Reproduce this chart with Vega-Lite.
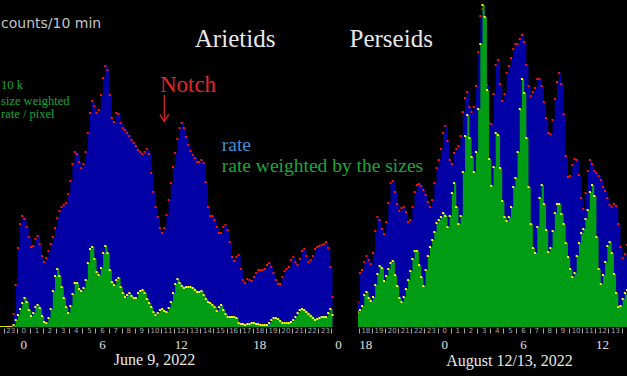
{
  "$schema": "https://vega.github.io/schema/vega-lite/v6.json",
  "background": "#000000",
  "padding": {"left": 0, "top": 0, "right": 0, "bottom": 8},
  "bounds": "flush",
  "spacing": 20,
  "config": {
    "view": {"stroke": null},
    "axis": {"grid": false, "domain": false, "labelFlush": false, "labelOverlap": false, "labelBound": false}
  },
  "datasets": {
    "june": [
      {"min": -105, "r": 0, "w": 0}, {"min": -95, "r": 0, "w": 0}, {"min": -85, "r": 0, "w": 0},
      {"min": -75, "r": 0, "w": 0}, {"min": -65, "r": 0, "w": 0}, {"min": -55, "r": 0, "w": 0},
      {"min": -45, "r": 13, "w": 2}, {"min": -35, "r": 42, "w": 7}, {"min": -25, "r": 79, "w": 12},
      {"min": -15, "r": 103, "w": 18}, {"min": -5, "r": 111, "w": 24}, {"min": 5, "r": 108, "w": 29},
      {"min": 15, "r": 100, "w": 25}, {"min": 25, "r": 90, "w": 17}, {"min": 35, "r": 80, "w": 11},
      {"min": 45, "r": 81, "w": 14}, {"min": 55, "r": 88, "w": 20}, {"min": 65, "r": 91, "w": 22},
      {"min": 75, "r": 83, "w": 19}, {"min": 85, "r": 71, "w": 11}, {"min": 95, "r": 65, "w": 5},
      {"min": 105, "r": 69, "w": 4}, {"min": 115, "r": 76, "w": 9}, {"min": 125, "r": 83, "w": 18},
      {"min": 135, "r": 90, "w": 36}, {"min": 145, "r": 99, "w": 51}, {"min": 155, "r": 109, "w": 58},
      {"min": 165, "r": 116, "w": 51}, {"min": 175, "r": 120, "w": 40}, {"min": 185, "r": 122, "w": 29},
      {"min": 195, "r": 124, "w": 20}, {"min": 205, "r": 133, "w": 14}, {"min": 215, "r": 146, "w": 21},
      {"min": 225, "r": 163, "w": 33}, {"min": 235, "r": 175, "w": 44}, {"min": 245, "r": 173, "w": 44},
      {"min": 255, "r": 165, "w": 38}, {"min": 265, "r": 159, "w": 36}, {"min": 275, "r": 163, "w": 39},
      {"min": 285, "r": 175, "w": 47}, {"min": 295, "r": 194, "w": 64}, {"min": 305, "r": 214, "w": 78},
      {"min": 315, "r": 226, "w": 80}, {"min": 325, "r": 221, "w": 68}, {"min": 335, "r": 214, "w": 55},
      {"min": 345, "r": 217, "w": 52}, {"min": 355, "r": 232, "w": 59}, {"min": 365, "r": 249, "w": 74},
      {"min": 375, "r": 261, "w": 81}, {"min": 385, "r": 257, "w": 74}, {"min": 395, "r": 232, "w": 57},
      {"min": 405, "r": 209, "w": 45}, {"min": 415, "r": 205, "w": 42}, {"min": 425, "r": 214, "w": 47},
      {"min": 435, "r": 213, "w": 49}, {"min": 445, "r": 204, "w": 40}, {"min": 455, "r": 199, "w": 34},
      {"min": 465, "r": 197, "w": 30}, {"min": 475, "r": 194, "w": 32}, {"min": 485, "r": 191, "w": 34},
      {"min": 495, "r": 187, "w": 31}, {"min": 505, "r": 184, "w": 29}, {"min": 515, "r": 181, "w": 29},
      {"min": 525, "r": 177, "w": 34}, {"min": 535, "r": 175, "w": 36}, {"min": 545, "r": 173, "w": 37},
      {"min": 555, "r": 175, "w": 34}, {"min": 565, "r": 178, "w": 28}, {"min": 575, "r": 173, "w": 24},
      {"min": 585, "r": 154, "w": 20}, {"min": 595, "r": 135, "w": 15}, {"min": 605, "r": 120, "w": 12},
      {"min": 615, "r": 110, "w": 14}, {"min": 625, "r": 99, "w": 17}, {"min": 635, "r": 94, "w": 18},
      {"min": 645, "r": 99, "w": 16}, {"min": 655, "r": 112, "w": 15}, {"min": 665, "r": 127, "w": 19},
      {"min": 675, "r": 144, "w": 25}, {"min": 685, "r": 160, "w": 34}, {"min": 695, "r": 174, "w": 43},
      {"min": 705, "r": 188, "w": 48}, {"min": 715, "r": 199, "w": 44}, {"min": 725, "r": 204, "w": 41},
      {"min": 735, "r": 199, "w": 39}, {"min": 745, "r": 190, "w": 40}, {"min": 755, "r": 182, "w": 40},
      {"min": 765, "r": 176, "w": 40}, {"min": 775, "r": 172, "w": 39}, {"min": 785, "r": 169, "w": 37},
      {"min": 795, "r": 165, "w": 35}, {"min": 805, "r": 165, "w": 35}, {"min": 815, "r": 167, "w": 36},
      {"min": 825, "r": 164, "w": 32}, {"min": 835, "r": 145, "w": 28}, {"min": 845, "r": 120, "w": 25},
      {"min": 855, "r": 111, "w": 24}, {"min": 865, "r": 111, "w": 22}, {"min": 875, "r": 107, "w": 20},
      {"min": 885, "r": 100, "w": 16}, {"min": 895, "r": 94, "w": 20}, {"min": 905, "r": 94, "w": 22},
      {"min": 915, "r": 100, "w": 17}, {"min": 925, "r": 102, "w": 13}, {"min": 935, "r": 97, "w": 10},
      {"min": 945, "r": 85, "w": 10}, {"min": 955, "r": 70, "w": 10}, {"min": 965, "r": 66, "w": 10},
      {"min": 975, "r": 70, "w": 9}, {"min": 985, "r": 72, "w": 4}, {"min": 995, "r": 58, "w": 3},
      {"min": 1005, "r": 47, "w": 3}, {"min": 1015, "r": 44, "w": 2}, {"min": 1025, "r": 48, "w": 3},
      {"min": 1035, "r": 47, "w": 3}, {"min": 1045, "r": 46, "w": 4}, {"min": 1055, "r": 50, "w": 4},
      {"min": 1065, "r": 54, "w": 3}, {"min": 1075, "r": 57, "w": 3}, {"min": 1085, "r": 57, "w": 2},
      {"min": 1095, "r": 57, "w": 2}, {"min": 1105, "r": 58, "w": 2}, {"min": 1115, "r": 62, "w": 2},
      {"min": 1125, "r": 64, "w": 4}, {"min": 1135, "r": 60, "w": 7}, {"min": 1145, "r": 54, "w": 9},
      {"min": 1155, "r": 47, "w": 9}, {"min": 1165, "r": 43, "w": 8}, {"min": 1175, "r": 43, "w": 6},
      {"min": 1185, "r": 50, "w": 4}, {"min": 1195, "r": 56, "w": 4}, {"min": 1205, "r": 58, "w": 4},
      {"min": 1215, "r": 60, "w": 4}, {"min": 1225, "r": 67, "w": 5}, {"min": 1235, "r": 70, "w": 7},
      {"min": 1245, "r": 65, "w": 10}, {"min": 1255, "r": 62, "w": 14}, {"min": 1265, "r": 68, "w": 17},
      {"min": 1275, "r": 76, "w": 18}, {"min": 1285, "r": 78, "w": 17}, {"min": 1295, "r": 71, "w": 15},
      {"min": 1305, "r": 65, "w": 13}, {"min": 1315, "r": 67, "w": 11}, {"min": 1325, "r": 71, "w": 9},
      {"min": 1335, "r": 78, "w": 7}, {"min": 1345, "r": 80, "w": 8}, {"min": 1355, "r": 81, "w": 9},
      {"min": 1365, "r": 82, "w": 10}, {"min": 1375, "r": 83, "w": 10}, {"min": 1385, "r": 85, "w": 10},
      {"min": 1395, "r": 79, "w": 14}, {"min": 1405, "r": 60, "w": 18}, {"min": 1415, "r": 30, "w": 12}
    ],
    "aug": [
      {"min": -395, "r": 25, "w": 15}, {"min": -385, "r": 54, "w": 17}, {"min": -375, "r": 57, "w": 21},
      {"min": -365, "r": 65, "w": 32}, {"min": -355, "r": 71, "w": 35}, {"min": -345, "r": 67, "w": 29},
      {"min": -335, "r": 63, "w": 26}, {"min": -325, "r": 74, "w": 30}, {"min": -315, "r": 96, "w": 42},
      {"min": -305, "r": 110, "w": 53}, {"min": -295, "r": 107, "w": 61}, {"min": -285, "r": 98, "w": 59},
      {"min": -275, "r": 93, "w": 46}, {"min": -265, "r": 105, "w": 51}, {"min": -255, "r": 124, "w": 58},
      {"min": -245, "r": 144, "w": 64}, {"min": -235, "r": 146, "w": 66}, {"min": -225, "r": 135, "w": 52},
      {"min": -215, "r": 123, "w": 41}, {"min": -205, "r": 116, "w": 29}, {"min": -195, "r": 119, "w": 25},
      {"min": -185, "r": 120, "w": 30}, {"min": -175, "r": 115, "w": 38}, {"min": -165, "r": 105, "w": 47},
      {"min": -155, "r": 107, "w": 56}, {"min": -145, "r": 120, "w": 68}, {"min": -135, "r": 135, "w": 76},
      {"min": -125, "r": 142, "w": 76}, {"min": -115, "r": 143, "w": 62}, {"min": -105, "r": 141, "w": 50},
      {"min": -95, "r": 137, "w": 41}, {"min": -85, "r": 132, "w": 57}, {"min": -75, "r": 125, "w": 71},
      {"min": -65, "r": 120, "w": 80}, {"min": -55, "r": 127, "w": 87}, {"min": -45, "r": 144, "w": 95},
      {"min": -35, "r": 159, "w": 104}, {"min": -25, "r": 167, "w": 107}, {"min": -15, "r": 178, "w": 110},
      {"min": -5, "r": 194, "w": 114}, {"min": 5, "r": 201, "w": 111}, {"min": 15, "r": 186, "w": 100},
      {"min": 25, "r": 167, "w": 111}, {"min": 35, "r": 163, "w": 134}, {"min": 45, "r": 174, "w": 144},
      {"min": 55, "r": 178, "w": 120}, {"min": 65, "r": 181, "w": 103}, {"min": 75, "r": 191, "w": 111},
      {"min": 85, "r": 215, "w": 155}, {"min": 95, "r": 229, "w": 191}, {"min": 105, "r": 235, "w": 212},
      {"min": 115, "r": 220, "w": 189}, {"min": 125, "r": 215, "w": 170}, {"min": 135, "r": 220, "w": 155},
      {"min": 145, "r": 241, "w": 175}, {"min": 155, "r": 275, "w": 218}, {"min": 165, "r": 311, "w": 283},
      {"min": 175, "r": 318, "w": 322}, {"min": 185, "r": 305, "w": 310}, {"min": 195, "r": 242, "w": 237},
      {"min": 205, "r": 204, "w": 168}, {"min": 215, "r": 203, "w": 141}, {"min": 225, "r": 233, "w": 160},
      {"min": 235, "r": 262, "w": 194}, {"min": 245, "r": 267, "w": 192}, {"min": 255, "r": 243, "w": 159},
      {"min": 265, "r": 226, "w": 126}, {"min": 275, "r": 233, "w": 110}, {"min": 285, "r": 254, "w": 106},
      {"min": 295, "r": 261, "w": 110}, {"min": 305, "r": 269, "w": 120}, {"min": 315, "r": 278, "w": 140},
      {"min": 325, "r": 283, "w": 149}, {"min": 335, "r": 283, "w": 175}, {"min": 345, "r": 288, "w": 218},
      {"min": 355, "r": 292, "w": 248}, {"min": 365, "r": 285, "w": 234}, {"min": 375, "r": 262, "w": 189},
      {"min": 385, "r": 241, "w": 140}, {"min": 395, "r": 231, "w": 103}, {"min": 405, "r": 235, "w": 79},
      {"min": 415, "r": 239, "w": 74}, {"min": 425, "r": 248, "w": 100}, {"min": 435, "r": 248, "w": 129},
      {"min": 445, "r": 241, "w": 142}, {"min": 455, "r": 225, "w": 123}, {"min": 465, "r": 209, "w": 97},
      {"min": 475, "r": 194, "w": 75}, {"min": 485, "r": 193, "w": 79}, {"min": 495, "r": 207, "w": 96},
      {"min": 505, "r": 228, "w": 114}, {"min": 515, "r": 245, "w": 123}, {"min": 525, "r": 254, "w": 123},
      {"min": 535, "r": 243, "w": 113}, {"min": 545, "r": 213, "w": 103}, {"min": 555, "r": 171, "w": 84},
      {"min": 565, "r": 150, "w": 70}, {"min": 575, "r": 151, "w": 58}, {"min": 585, "r": 162, "w": 50},
      {"min": 595, "r": 168, "w": 54}, {"min": 605, "r": 167, "w": 71}, {"min": 615, "r": 152, "w": 84},
      {"min": 625, "r": 129, "w": 94}, {"min": 635, "r": 118, "w": 98}, {"min": 645, "r": 134, "w": 108},
      {"min": 655, "r": 156, "w": 117}, {"min": 665, "r": 167, "w": 135}, {"min": 675, "r": 163, "w": 142},
      {"min": 685, "r": 156, "w": 131}, {"min": 695, "r": 154, "w": 90}, {"min": 705, "r": 151, "w": 58},
      {"min": 715, "r": 147, "w": 43}, {"min": 725, "r": 140, "w": 52}, {"min": 735, "r": 136, "w": 65},
      {"min": 745, "r": 129, "w": 81}, {"min": 755, "r": 122, "w": 85}, {"min": 765, "r": 120, "w": 74},
      {"min": 775, "r": 123, "w": 53}, {"min": 785, "r": 121, "w": 34}, {"min": 795, "r": 103, "w": 20},
      {"min": 805, "r": 80, "w": 21}, {"min": 815, "r": 69, "w": 28}, {"min": 825, "r": 73, "w": 34},
      {"min": 835, "r": 82, "w": 37}
    ]
  },
  "hconcat": [
    {
      "width": 338,
      "height": 327,
      "resolve": {"axis": {"x": "independent"}},
      "layer": [
        {
          "data": {"name": "june"},
          "mark": {"type": "area", "interpolate": "step-after", "color": "#0000a4", "clip": true},
          "encoding": {
            "x": {"field": "min", "type": "quantitative",
              "scale": {"domain": [-106.8, 1440], "nice": false, "zero": false},
              "axis": {"orient": "bottom", "values": [0, 360, 720, 1080, 1440], "labelExpr": "(datum.value/60+24)%24",
                "ticks": false, "tickSize": 0, "domain": false, "labelPadding": 21.5, "labelBaseline": "alphabetic",
                "labelFont": "Liberation Serif", "labelFontSize": 13, "labelColor": "#e0e0e0",
                "title": "June 9, 2022", "titleFont": "Liberation Serif", "titleFontSize": 16, "titleFontWeight": "normal",
                "titleColor": "#e8e8e8", "titleBaseline": "alphabetic", "titleAlign": "center", "titleX": 154, "titleY": 37.5}},
            "y": {"field": "r", "type": "quantitative", "scale": {"domain": [0, 327], "nice": false, "zero": true}, "axis": null}
          }
        },
        {
          "data": {"name": "june"},
          "mark": {"type": "point", "shape": "square", "size": 4, "filled": true, "color": "#ff1010", "opacity": 1, "clip": true},
          "encoding": {
            "x": {"field": "min", "type": "quantitative",
              "axis": {"orient": "bottom", "values": [-60, 0, 60, 120, 180, 240, 300, 360, 420, 480, 540, 600, 660, 720, 780, 840, 900, 960, 1020, 1080, 1140, 1200, 1260, 1320, 1380],
                "labelExpr": "(datum.value/60+24)%24", "ticks": false, "tickSize": 0, "domain": false, "labelPadding": 5.8,
                "labelBaseline": "alphabetic", "labelFont": "DejaVu Sans", "labelFontSize": 7, "labelColor": "#a8a8a8", "title": null}},
            "y": {"field": "r", "type": "quantitative", "axis": null}
          }
        },
        {
          "data": {"name": "june"},
          "mark": {"type": "area", "interpolate": "step-after", "color": "#009c14", "clip": true},
          "encoding": {
            "x": {"field": "min", "type": "quantitative",
              "axis": {"orient": "bottom", "values": [-90, -30, 30, 90, 150, 210, 270, 330, 390, 450, 510, 570, 630, 690, 750, 810, 870, 930, 990, 1050, 1110, 1170, 1230, 1290, 1350, 1410],
                "labels": false, "ticks": true, "tickSize": 5, "tickColor": "#a8a8a8", "tickWidth": 1, "domain": false, "offset": 1, "title": null}},
            "y": {"field": "w", "type": "quantitative", "axis": null}
          }
        },
        {
          "data": {"name": "june"},
          "mark": {"type": "point", "shape": "square", "size": 4, "filled": true, "color": "#ffff00", "opacity": 1, "clip": true},
          "encoding": {
            "x": {"field": "min", "type": "quantitative", "axis": null},
            "y": {"field": "w", "type": "quantitative", "axis": null}
          }
        },
        {
          "data": {"values": [{"min": 969, "v": 280, "label": "Arietids"}]},
          "mark": {"type": "text", "font": "Liberation Serif", "fontSize": 25, "color": "#e8e8e8", "align": "center", "baseline": "alphabetic"},
          "encoding": {
            "x": {"field": "min", "type": "quantitative", "axis": null},
            "y": {"field": "v", "type": "quantitative", "axis": null},
            "text": {"field": "label"}
          }
        },
        {
          "data": {"values": [{"min": 625, "v": 235, "label": "Notch"}]},
          "mark": {"type": "text", "font": "Liberation Serif", "fontSize": 23, "color": "#e32626", "align": "left", "baseline": "alphabetic"},
          "encoding": {
            "x": {"field": "min", "type": "quantitative", "axis": null},
            "y": {"field": "v", "type": "quantitative", "axis": null},
            "text": {"field": "label"}
          }
        },
        {
          "data": {"values": [{"min": 645, "v": 232, "v2": 206}]},
          "mark": {"type": "rule", "color": "#e32626", "strokeWidth": 1.2},
          "encoding": {
            "x": {"field": "min", "type": "quantitative", "axis": null},
            "y": {"field": "v", "type": "quantitative", "axis": null},
            "y2": {"field": "v2"}
          }
        },
        {
          "data": {"values": [{"min": 645, "v": 209}]},
          "mark": {"type": "point", "shape": "M-1,-0.8L0,0.8L1,-0.8", "size": 81, "filled": false, "color": "#e32626", "strokeWidth": 1.2, "opacity": 1},
          "encoding": {
            "x": {"field": "min", "type": "quantitative", "axis": null},
            "y": {"field": "v", "type": "quantitative", "axis": null}
          }
        },
        {
          "data": {"values": [{"min": 908, "v": 176, "label": "rate"}]},
          "mark": {"type": "text", "font": "Liberation Serif", "fontSize": 19.5, "color": "#3b8fd9", "align": "left", "baseline": "alphabetic"},
          "encoding": {
            "x": {"field": "min", "type": "quantitative", "axis": null},
            "y": {"field": "v", "type": "quantitative", "axis": null},
            "text": {"field": "label"}
          }
        },
        {
          "data": {"values": [{"min": 908, "v": 155.5, "label": "rate weighted by the sizes"}]},
          "mark": {"type": "text", "font": "Liberation Serif", "fontSize": 19.5, "color": "#1aa83a", "align": "left", "baseline": "alphabetic"},
          "encoding": {
            "x": {"field": "min", "type": "quantitative", "axis": null},
            "y": {"field": "v", "type": "quantitative", "axis": null},
            "text": {"field": "label"}
          }
        },
        {
          "data": {"values": [{"min": -102, "v": 299, "label": "counts/10 min"}]},
          "mark": {"type": "text", "font": "DejaVu Sans", "fontSize": 14, "color": "#c4c4c4", "align": "left", "baseline": "alphabetic"},
          "encoding": {
            "x": {"field": "min", "type": "quantitative", "axis": null},
            "y": {"field": "v", "type": "quantitative", "axis": null},
            "text": {"field": "label"}
          }
        },
        {
          "data": {"values": [
            {"min": -102, "v": 238, "label": "10 k"},
            {"min": -102, "v": 222.5, "label": "size weighted"},
            {"min": -102, "v": 209, "label": "rate / pixel"}
          ]},
          "mark": {"type": "text", "font": "Liberation Serif", "fontSize": 12.5, "color": "#14a83a", "align": "left", "baseline": "alphabetic"},
          "encoding": {
            "x": {"field": "min", "type": "quantitative", "axis": null},
            "y": {"field": "v", "type": "quantitative", "axis": null},
            "text": {"field": "label"}
          }
        }
      ]
    },
    {
      "width": 269,
      "height": 327,
      "resolve": {"axis": {"x": "independent"}},
      "layer": [
        {
          "data": {"name": "aug"},
          "mark": {"type": "area", "interpolate": "step-after", "color": "#0000a4", "clip": true},
          "encoding": {
            "x": {"field": "min", "type": "quantitative",
              "scale": {"domain": [-393.6, 834.7], "nice": false, "zero": false},
              "axis": {"orient": "bottom", "values": [-360, 0, 360, 720], "labelExpr": "(datum.value/60+24)%24",
                "ticks": false, "tickSize": 0, "domain": false, "labelPadding": 21.5, "labelBaseline": "alphabetic",
                "labelFont": "Liberation Serif", "labelFontSize": 13, "labelColor": "#e0e0e0",
                "title": "August 12/13, 2022", "titleFont": "Liberation Serif", "titleFontSize": 16, "titleFontWeight": "normal",
                "titleColor": "#e8e8e8", "titleBaseline": "alphabetic", "titleAlign": "center", "titleX": 151, "titleY": 38}},
            "y": {"field": "r", "type": "quantitative", "scale": {"domain": [0, 327], "nice": false, "zero": true}, "axis": null}
          }
        },
        {
          "data": {"name": "aug"},
          "mark": {"type": "point", "shape": "square", "size": 4, "filled": true, "color": "#ff1010", "opacity": 1, "clip": true},
          "encoding": {
            "x": {"field": "min", "type": "quantitative",
              "axis": {"orient": "bottom", "values": [-360, -300, -240, -180, -120, -60, 0, 60, 120, 180, 240, 300, 360, 420, 480, 540, 600, 660, 720, 780],
                "labelExpr": "(datum.value/60+24)%24", "ticks": false, "tickSize": 0, "domain": false, "labelPadding": 5.8,
                "labelBaseline": "alphabetic", "labelFont": "DejaVu Sans", "labelFontSize": 7, "labelColor": "#a8a8a8", "title": null}},
            "y": {"field": "r", "type": "quantitative", "axis": null}
          }
        },
        {
          "data": {"name": "aug"},
          "mark": {"type": "area", "interpolate": "step-after", "color": "#009c14", "clip": true},
          "encoding": {
            "x": {"field": "min", "type": "quantitative",
              "axis": {"orient": "bottom", "values": [-390, -330, -270, -210, -150, -90, -30, 30, 90, 150, 210, 270, 330, 390, 450, 510, 570, 630, 690, 750, 810],
                "labels": false, "ticks": true, "tickSize": 5, "tickColor": "#a8a8a8", "tickWidth": 1, "domain": false, "offset": 1, "title": null}},
            "y": {"field": "w", "type": "quantitative", "axis": null}
          }
        },
        {
          "data": {"name": "aug"},
          "mark": {"type": "point", "shape": "square", "size": 4, "filled": true, "color": "#ffff00", "opacity": 1, "clip": true},
          "encoding": {
            "x": {"field": "min", "type": "quantitative", "axis": null},
            "y": {"field": "w", "type": "quantitative", "axis": null}
          }
        },
        {
          "data": {"values": [{"min": -242, "v": 280, "label": "Perseids"}]},
          "mark": {"type": "text", "font": "Liberation Serif", "fontSize": 25, "color": "#e8e8e8", "align": "center", "baseline": "alphabetic"},
          "encoding": {
            "x": {"field": "min", "type": "quantitative", "axis": null},
            "y": {"field": "v", "type": "quantitative", "axis": null},
            "text": {"field": "label"}
          }
        }
      ]
    }
  ]
}
